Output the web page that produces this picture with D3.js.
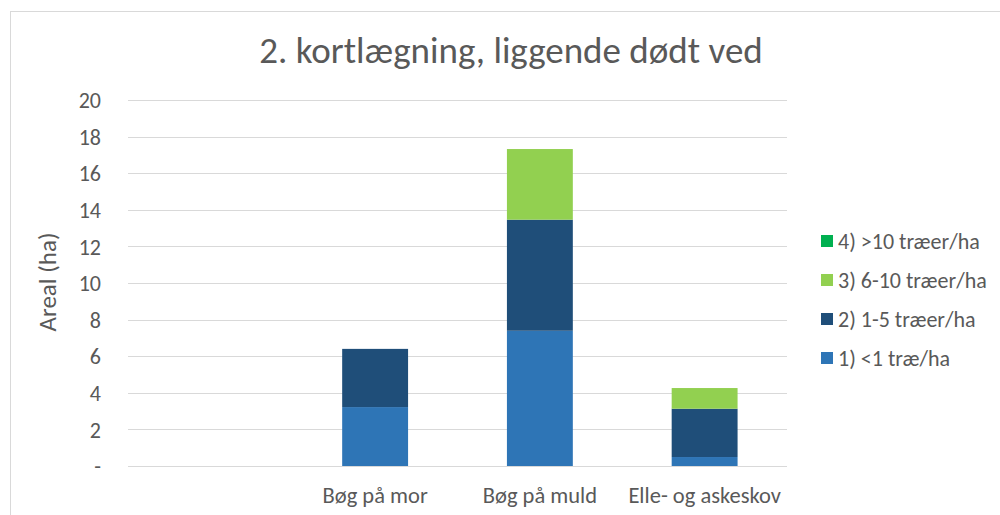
<!DOCTYPE html>
<html lang="da">

<head>
  <meta charset="utf-8">
  <title>2. kortlægning, liggende dødt ved</title>
  <style>
    body {
      margin: 0;
      background: #fff;
    }

    svg text {
      font-family: Carlito, "Liberation Sans Narrow", "Open Sans", sans-serif;
      fill: #595959;
    }

    .grid line {
      stroke: #d9d9d9;
      shape-rendering: crispEdges;
    }
  </style>
</head>

<body>
  <div id="chart"></div>
</body>
<script src="https://d3js.org/d3.v7.min.js"></script>

<script>

  // data
  let categories = ["", "Bøg på mor", "Bøg på muld", "Elle- og askeskov"];
  let series = ["1) <1 træ/ha", "2) 1-5 træer/ha", "3) 6-10 træer/ha", "4) >10 træer/ha"];
  let lessThan1 = [0, 3.22, 7.39, 0.49];
  let from1to5 = [0, 3.18, 6.07, 2.64];
  let from6to10 = [0, 0, 3.86, 1.13];
  let over10 = [0, 0, 0, 0];
  let yTicks = [0, 2, 4, 6, 8, 10, 12, 14, 16, 18, 20];
  let colors = ["#2e75b6", "#1f4e79", "#92d050", "#00b050"];

  let W = 1000, H = 515;
  let mLeft = 128, mRight = 787, mTop = 100, mBottom = 466;

  let rows = categories.map((c, i) => ({
    cat: c,
    s0: lessThan1[i], s1: from1to5[i], s2: from6to10[i], s3: over10[i]
  }));

  let stack = d3.stack().keys(["s0", "s1", "s2", "s3"])(rows);

  let svg = d3.select("#chart")
    .append("svg")
    .attr("width", W)
    .attr("height", H);

  // chart frame
  svg.append("rect")
    .attr("x", 10.5)
    .attr("y", 11.5)
    .attr("width", 1000)
    .attr("height", 520)
    .attr("fill", "none")
    .attr("stroke", "#d9d9d9");

  let x = d3.scaleBand().domain(categories).range([mLeft, mRight]).paddingInner(0.6).paddingOuter(0.3);
  let y = d3.scaleLinear().domain([0, 20]).range([mBottom, mTop]);

  // gridlines
  svg.append("g")
    .attr("class", "grid")
    .selectAll("line")
    .data(yTicks)
    .enter()
    .append("line")
    .attr("x1", mLeft)
    .attr("x2", mRight)
    .attr("y1", d => Math.round(y(d)) + 0.5)
    .attr("y2", d => Math.round(y(d)) + 0.5);

  // y axis
  let yAxis = svg.append("g")
    .attr("transform", "translate(" + 101 + ",0)")
    .call(d3.axisLeft(y).tickValues(yTicks).tickSize(0).tickPadding(0)
      .tickFormat(d => d === 0 ? "-" : d));
  yAxis.select(".domain").remove();
  yAxis.selectAll("text")
    .style("font-size", "22px")
    .attr("dy", "0.35em");

  // x axis
  let xAxis = svg.append("g")
    .attr("transform", "translate(0," + mBottom + ")")
    .call(d3.axisBottom(x).tickSize(0).tickPadding(21));
  xAxis.select(".domain").remove();
  xAxis.selectAll("text")
    .style("font-size", "22.5px");

  // bars
  svg.append("g")
    .selectAll("g")
    .data(stack)
    .enter()
    .append("g")
    .attr("fill", (d, i) => colors[i])
    .selectAll("rect")
    .data(d => d)
    .enter()
    .append("rect")
    .attr("x", d => x(d.data.cat))
    .attr("width", x.bandwidth())
    .attr("y", d => y(d[1]))
    .attr("height", d => y(d[0]) - y(d[1]));

  // title
  svg.append("text")
    .attr("x", 511)
    .attr("y", 63)
    .attr("text-anchor", "middle")
    .style("font-size", "37px")
    .text("2. kortlægning, liggende dødt ved");

  // axis title
  svg.append("text")
    .attr("transform", "translate(56,282) rotate(-90)")
    .attr("text-anchor", "middle")
    .style("font-size", "25px")
    .text("Areal (ha)");

  // legend, reversed like excel
  let legend = svg.append("g")
    .selectAll("g")
    .data(series.map((s, i) => ({ name: s, color: colors[i] })).reverse())
    .enter()
    .append("g")
    .attr("transform", (d, i) => "translate(821," + (241 + i * 39) + ")");

  legend.append("rect")
    .attr("x", 0)
    .attr("y", -6)
    .attr("width", 12)
    .attr("height", 12)
    .attr("fill", d => d.color);

  legend.append("text")
    .attr("x", 17)
    .attr("dy", "0.35em")
    .style("font-size", "22px")
    .text(d => d.name);

</script>

</html>
